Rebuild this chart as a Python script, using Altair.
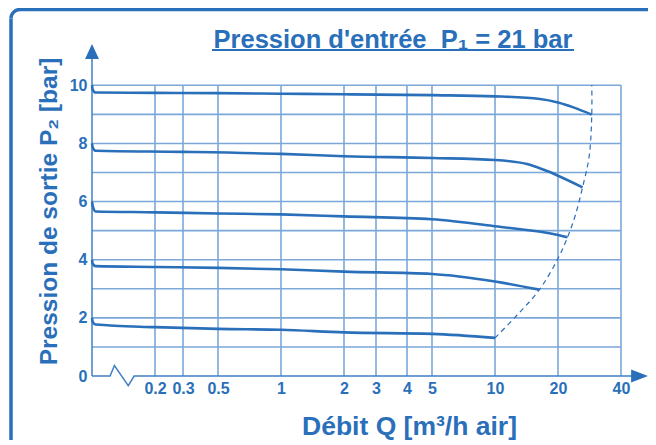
import math
import altair as alt
import pandas as pd

BLUE = "#2a6fba"
GRID = "#7ba7d9"
AXISC = "#3f7fc4"
TFONT = "Liberation Sans, Arial, sans-serif"
LABF = "Liberation Sans, Arial, sans-serif"

# ---- data ----
x_ticks = [0.2, 0.3, 0.5, 1, 2, 3, 4, 5, 10, 20, 40]
y_ticks = [0, 2, 4, 6, 8, 10]
y_grid = [1, 2, 3, 4, 5, 6, 7, 8, 9, 10]

c10_x = [0.1, 0.1008, 0.104, 0.2, 0.5, 1, 2, 5, 10, 16.4, 20, 23.7, 29.0]
c10_y = [10, 9.85, 9.75, 9.74, 9.73, 9.71, 9.69, 9.66, 9.62, 9.53, 9.41, 9.24, 8.99]

c8_x = [0.1, 0.1008, 0.104, 0.3, 1, 2, 5, 10, 14.2, 17.0, 20, 26.2]
c8_y = [8, 7.86, 7.75, 7.71, 7.64, 7.56, 7.50, 7.43, 7.29, 7.10, 6.89, 6.49]

c6_x = [0.1, 0.1008, 0.104, 0.2, 0.5, 1, 2, 5, 10, 20, 22.2]
c6_y = [6, 5.85, 5.66, 5.63, 5.59, 5.56, 5.49, 5.39, 5.15, 4.85, 4.77]

c4_x = [0.1, 0.1008, 0.104, 0.2, 0.5, 1, 2, 5, 10, 16.3]
c4_y = [4, 3.86, 3.78, 3.75, 3.72, 3.67, 3.59, 3.51, 3.25, 2.97]

c2_x = [0.1, 0.1008, 0.104, 0.2, 0.5, 1, 2, 5, 10]
c2_y = [2, 1.86, 1.77, 1.68, 1.62, 1.59, 1.50, 1.45, 1.31]

lim_x = [10, 12.7, 16.3, 20.0, 22.2, 24.2, 26.2, 28.2, 29.0, 29.0]
lim_y = [1.31, 2.08, 2.97, 4.04, 4.77, 5.53, 6.49, 7.57, 8.99, 10]

xaxis_x = [0.1, 0.122, 0.128, 0.149, 0.159, 49]
xaxis_y = [0, 0, 0.36, -0.33, 0, 0]
yaxis_x = [0.1, 0.1]
yaxis_y = [0, 11.0]

X_LEFT, X_END, Y_TOP = 0.1, 54, 11.42
x_domain = [X_LEFT, 0.2, 0.3, 0.5, 1, 2, 3, 4, 5, 10, 20, 40, X_END]
x_range = [0, 63, 91, 126, 189, 252, 284, 315, 340, 403, 466, 529, 556]

title_txt = "Pression d'entr\u00e9e \u00a0P\u2081 = 21 bar"
xtitle = "D\u00e9bit Q [m\u00b3/h air]"
ytitle = "Pression de sortie P\u2082 [bar]"

# ---- scales / axes ----
XS = alt.Scale(type="log", domain=x_domain, range=x_range, nice=False)
YS = alt.Scale(domain=[0, Y_TOP], nice=False, zero=False)

x_axis = alt.Axis(values=x_ticks, format="~g", domain=False, ticks=False, grid=False,
                  labelFont=LABF, labelFontSize=16, labelFontWeight="bold", labelColor=BLUE,
                  labelPadding=4, labelFlush=False, labelOverlap=False,
                  title=xtitle, titleFont=TFONT, titleFontSize=26.5, titleFontWeight="bold",
                  titleColor=BLUE, titleX=317, titleY=50, titleAlign="center",
                  titleBaseline="middle")
y_axis = alt.Axis(values=y_ticks, format="d", domain=False, ticks=False, grid=False,
                  labelFont=LABF, labelFontSize=16, labelFontWeight="bold", labelColor=BLUE,
                  labelPadding=5, labelOverlap=False,
                  title=ytitle, titleFont=TFONT, titleFontSize=24.5, titleFontWeight="bold",
                  titleColor=BLUE, titleAngle=270, titleX=-43, titleY=167,
                  titleAlign="center", titleBaseline="middle")


def X(f):
    return alt.X(f, type="quantitative", scale=XS, axis=x_axis)


def Y(f):
    return alt.Y(f, type="quantitative", scale=YS, axis=y_axis)


# ---- tables ----
rows = []
for name, xs, ys in [("10", c10_x, c10_y), ("8", c8_x, c8_y), ("6", c6_x, c6_y),
                     ("4", c4_x, c4_y), ("2", c2_x, c2_y)]:
    for i, (a, b) in enumerate(zip(xs, ys)):
        rows.append({"s": name, "o": i, "x": a, "y": b})
curves = pd.DataFrame(rows)
limit = pd.DataFrame({"o": range(len(lim_x)), "x": lim_x, "y": lim_y})
vgrid = pd.DataFrame({"x": x_ticks, "y0": 0, "y1": 10})
hgrid = pd.DataFrame({"y": y_grid, "x0": X_LEFT, "x1": 40})
xax = pd.DataFrame({"o": range(len(xaxis_x)), "x": xaxis_x, "y": xaxis_y})
yax = pd.DataFrame({"o": range(2), "x": yaxis_x, "y": yaxis_y})
arrows = pd.DataFrame({"x": [X_LEFT, 49.2], "y": [11.16, 0],
                       "k": ["up", "right"]})
one = pd.DataFrame({"a": [0]})

# ---- frame (top edge, left edge, rounded corner) ----
FL, FT, FR = -81, -34.5, 9
SW = 3.5
frame_top = alt.Chart(one).mark_rule(color=BLUE, strokeWidth=SW, strokeCap="butt").encode(
    x=alt.value(FL + FR), x2=alt.value(700), y=alt.value(FT))
frame_left = alt.Chart(one).mark_rule(color=BLUE, strokeWidth=SW, strokeCap="butt").encode(
    x=alt.value(FL), y=alt.value(FT + FR), y2=alt.value(500))
frame_corner = alt.Chart(one).mark_arc(
    color=BLUE, innerRadius=FR - SW / 2, outerRadius=FR + SW / 2,
    theta=1.5 * math.pi, theta2=2 * math.pi).encode(
    x=alt.value(FL + FR), y=alt.value(FT + FR))

vg = alt.Chart(vgrid).mark_rule(color=GRID, strokeWidth=1.6).encode(
    x=X("x"), y=Y("y0"), y2="y1")
hg = alt.Chart(hgrid).mark_rule(color=GRID, strokeWidth=1.6).encode(
    y=Y("y"), x=X("x0"), x2="x1")

xline = alt.Chart(xax).mark_line(color=AXISC, strokeWidth=1.5).encode(
    x=X("x"), y=Y("y"), order="o:Q")
yline = alt.Chart(yax).mark_line(color=AXISC, strokeWidth=1.5).encode(
    x=X("x"), y=Y("y"), order="o:Q")

arr_up = alt.Chart(arrows[arrows.k == "up"]).mark_point(
    shape="M0,-1L0.93,1L-0.93,1Z", size=225, filled=True, fill=BLUE, opacity=1,
    strokeWidth=0).encode(x=X("x"), y=Y("y"))
arr_rt = alt.Chart(arrows[arrows.k == "right"]).mark_point(
    shape="M1,0L-1,0.76L-1,-0.76Z", size=289, filled=True, fill=BLUE, opacity=1,
    strokeWidth=0).encode(x=X("x"), y=Y("y"))

lines = alt.Chart(curves).mark_line(color=BLUE, strokeWidth=2.6,
                                    interpolate="monotone").encode(
    x=X("x"), y=Y("y"), detail="s:N", order="o:Q")
lim = alt.Chart(limit).mark_line(color=BLUE, strokeWidth=1.2, strokeDash=[5, 4],
                                 interpolate="catmull-rom").encode(
    x=X("x"), y=Y("y"), order="o:Q")

title = alt.Chart(one).mark_text(text=title_txt, font=TFONT, fontSize=25.5,
                                 fontWeight="bold", color=BLUE, align="center",
                                 baseline="alphabetic").encode(
    x=alt.value(301), y=alt.value(3.5))
underline = alt.Chart(one).mark_rule(color=BLUE, strokeWidth=2).encode(
    x=alt.value(120), x2=alt.value(482), y=alt.value(6))

chart = alt.layer(frame_top, frame_left, frame_corner, vg, hg, xline, yline, lines,
                  lim, arr_up, arr_rt, title, underline).properties(
    width=556, height=332,
    autosize=alt.AutoSizeParams(type="none"),
    padding={"left": 84, "top": 36, "right": 0, "bottom": 64},
    background="white",
).configure_view(stroke=None)

chart.save("out.html", embed_options={"renderer": "svg", "actions": False})
